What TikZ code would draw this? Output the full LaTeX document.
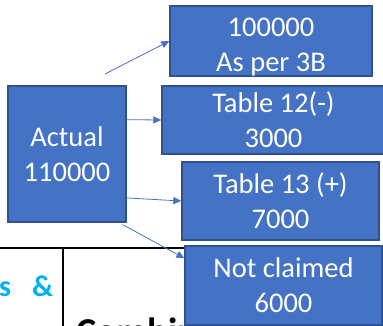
\documentclass[tikz,border=0pt]{standalone}
\usepackage{fontspec}
\setmainfont{Carlito}
\usetikzlibrary{arrows.meta,calc}
\definecolor{boxblue}{HTML}{4472C4}
\definecolor{boxedge}{HTML}{2F528F}
\definecolor{cellcyan}{HTML}{00B0F0}
\begin{document}
\begin{tikzpicture}[x=1pt,y=-1pt,
 b/.style={draw=boxedge,fill=boxblue,line width=1.3pt,text=white,align=center,
   inner sep=0pt,font=\fontsize{28.5}{35}\selectfont},
 a/.style={-{Triangle[length=8pt,width=7pt]},line width=0.8pt,boxblue},
 cell/.style={line width=1.2pt,black}]
\useasboundingbox (0,0) rectangle (383,326);
\draw[cell] (0,248)--(372,248);
\draw[cell] (63,248)--(63,330);
\draw[cell] (372,248)--(372,330);
\node[anchor=base west,inner sep=0pt,text=cellcyan,
  font=\fontsize{30}{34}\selectfont\bfseries] (amp) at (-1,296) {s\hspace{0.7em}\&};
\node[anchor=base west,inner sep=0pt,
  font=\fontsize{38}{44}\selectfont\bfseries] (comb) at (76,344) {Combination};
\node[b,minimum width=118pt,minimum height=136pt] (act) at (67,154) {Actual\\110000};
\node[b,minimum width=202pt,minimum height=70pt] (asper) at (271,41)
  {\rule{0pt}{30pt}100000\\As per 3B};
\node[b,minimum width=223pt,minimum height=68pt] (tminus) at (273.5,120) {Table 12(-)\\3000};
\node[b,minimum width=197pt,minimum height=78pt] (tplus) at (280.5,201) {Table 13 (+)\\7000};
\node[b,minimum width=197pt,minimum height=79pt] (nc) at (283.5,285.5) {Not claimed\\6000};
\coordinate (start) at (105,74);
\draw[a] (start)--(asper.west);
\draw[a] ($(act.north east)!0.25!(act.south east)$)--(tminus.west);
\draw[a] ($(act.north east)!0.82!(act.south east)$)--(tplus.west);
\draw[a] ($(act.south east)+(-4,2)$)--($(nc.north west)!0.16!(nc.south west)$);
\end{tikzpicture}
\end{document}
